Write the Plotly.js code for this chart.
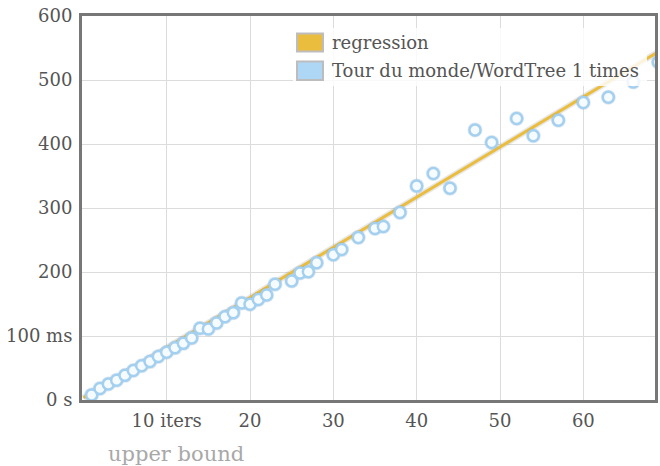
<!DOCTYPE html>
<html>
<head>
<meta charset="utf-8">
<script src="https://cdn.plot.ly/plotly-3.0.1.min.js"></script>
<style>html,body{margin:0;padding:0;background:#fff;}#chart{width:660px;height:466px;}</style>
</head>
<body>
<div id="chart"></div>
<script>
// Data
const iterations = [1,2,3,4,5,6,7,8,9,10,11,12,13,14,15,16,17,18,19,20,21,22,23,25,26,27,28,30,31,33,35,36,38,40,42,44,47,49,52,54,57,60,63,66,69];
const timesMs = [8,18,25,31,38.5,46,53.5,60,68,74.5,81.5,88.5,97,112,111,120.5,130,136.5,151.5,149.5,157,164,181,186,198.5,200.5,214.5,227,235,254,268,271,293,334.5,354,331,422,402.5,440,413,437,465,473,497,528];
const regressionX = [0, 69];
const regressionY = [3.5, 544];
const seriesNames = ["regression", "Tour du monde/WordTree 1 times"];
const yTickVals = [0,100,200,300,400,500,600];
const yTickText = ["0 s","100 ms","200","300","400","500","600"];
const xTickVals = [10,20,30,40,50,60];
const xTickText = ["10 iters","20","30","40","50","60"];
const xAxisTitle = "upper bound";

const FONT = "DejaVu Serif, serif";
const GOLD = "#ebbd3f";
const BLUE = "#aed6f5";

const traces = [
  { x: regressionX, y: regressionY, mode: "lines", name: seriesNames[0],
    line: {color: "rgba(120,120,120,0.18)", width: 6}, showlegend: false, hoverinfo: "skip" },
  { x: regressionX, y: regressionY, mode: "lines", name: seriesNames[0],
    line: {color: GOLD, width: 3}, showlegend: false },
  { x: iterations, y: timesMs, mode: "markers", name: seriesNames[1],
    marker: {size: 15, color: "rgba(110,150,190,0.22)", line: {width: 0}}, showlegend: false, hoverinfo: "skip" },
  { x: iterations, y: timesMs, mode: "markers", name: seriesNames[1],
    marker: {size: 11, color: "#f6fbff", line: {color: "#a4d0f0", width: 2.5}}, showlegend: false }
];

function px2x(p){ return (p - 82) / 573; }
function px2y(p){ return (400 - p) / 384; }

const layout = {
  width: 660, height: 466,
  margin: {l: 82, r: 5, t: 16, b: 66, pad: 0},
  paper_bgcolor: "#ffffff", plot_bgcolor: "#ffffff",
  font: {family: FONT, size: 18, color: "#555555"},
  showlegend: false,
  xaxis: {
    range: [-0.16, 68.6], tickvals: xTickVals, ticktext: xTickText,
    showgrid: true, gridcolor: "#dcdcdc", gridwidth: 1, zeroline: false,
    showline: true, linecolor: "#777777", linewidth: 3, mirror: true,
    ticks: "", ticklabelstandoff: 2,
    tickfont: {family: FONT, size: 18, color: "#555555"}
  },
  yaxis: {
    range: [0, 600], tickvals: yTickVals, ticktext: yTickText,
    showgrid: true, gridcolor: "#dcdcdc", gridwidth: 1, zeroline: false,
    showline: true, linecolor: "#777777", linewidth: 3, mirror: true,
    ticks: "", ticklabelstandoff: 3,
    tickfont: {family: FONT, size: 18, color: "#555555"}
  },
  shapes: [
    {type: "rect", xref: "paper", yref: "paper", layer: "above",
     x0: px2x(293), x1: px2x(647), y0: px2y(86), y1: px2y(28),
     fillcolor: "rgba(255,255,255,0.82)", line: {width: 0}},
    {type: "rect", xref: "paper", yref: "paper", layer: "above",
     x0: px2x(297), x1: px2x(323), y0: px2y(51.5), y1: px2y(33.5),
     fillcolor: GOLD, line: {color: "#bdbdbd", width: 2}},
    {type: "rect", xref: "paper", yref: "paper", layer: "above",
     x0: px2x(297), x1: px2x(323), y0: px2y(80), y1: px2y(61.5),
     fillcolor: BLUE, line: {color: "#bdbdbd", width: 2}}
  ],
  annotations: [
    {xref: "paper", yref: "paper", x: px2x(330), y: px2y(42), xanchor: "left", yanchor: "middle",
     text: seriesNames[0], showarrow: false, font: {family: FONT, size: 18, color: "#555555"}},
    {xref: "paper", yref: "paper", x: px2x(330), y: px2y(71), xanchor: "left", yanchor: "middle",
     text: seriesNames[1], showarrow: false, font: {family: FONT, size: 18, color: "#555555"}},
    {xref: "paper", yref: "paper", x: px2x(106), y: px2y(454), xanchor: "left", yanchor: "middle",
     text: xAxisTitle, showarrow: false, font: {family: FONT, size: 21, color: "#a8a8a8"}}
  ]
};

Plotly.newPlot("chart", traces, layout, {displayModeBar: false, staticPlot: true});
</script>
</body>
</html>
